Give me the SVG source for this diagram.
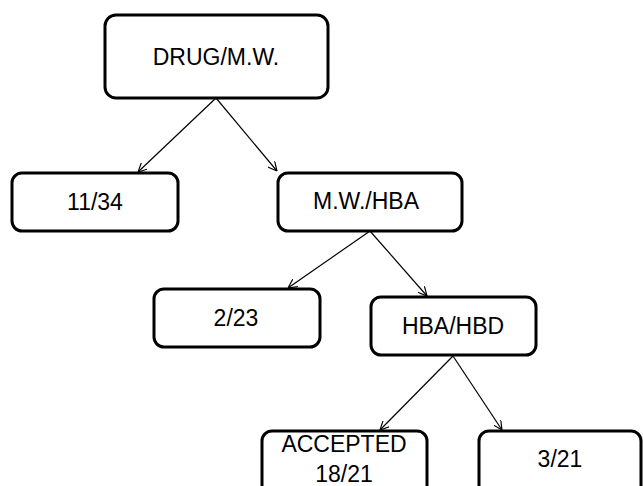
<svg xmlns="http://www.w3.org/2000/svg" width="643" height="486" viewBox="0 0 643 486">
<style>
.box{fill:#fff;stroke:#000;stroke-width:3}
.lbl{font-family:"Liberation Sans",Arial,sans-serif;font-size:23px;fill:#000;text-anchor:middle}
.edge{stroke:#000;stroke-width:1.2;fill:none;marker-end:url(#arr)}
</style>
<defs>
<marker id="arr" viewBox="0 0 10 10" refX="10" refY="5" markerWidth="9" markerHeight="9" markerUnits="userSpaceOnUse" orient="auto">
<path d="M0,0 L10,5 L0,10" fill="none" stroke="#000" stroke-width="1.3"/>
</marker>
</defs>
<rect width="643" height="486" fill="#fff"/>
<g id="connectors">
<line class="edge" x1="216" y1="98" x2="138" y2="172"/>
<line class="edge" x1="216" y1="98" x2="277" y2="171"/>
<line class="edge" x1="370" y1="231" x2="288" y2="288"/>
<line class="edge" x1="370" y1="231" x2="427" y2="296"/>
<line class="edge" x1="453" y1="356" x2="380" y2="430"/>
<line class="edge" x1="453" y1="356" x2="502" y2="430"/>
</g>
<g id="n-drug">
<rect class="box" x="105" y="15" width="223" height="83" rx="11"/>
<text class="lbl" x="216" y="65">DRUG/M.W.</text>
</g>
<g id="n-1134">
<rect class="box" x="12" y="173" width="166" height="58" rx="10"/>
<text class="lbl" x="95" y="210">11/34</text>
</g>
<g id="n-mwhba">
<rect class="box" x="278" y="173" width="184" height="58" rx="10"/>
<text class="lbl" x="366" y="209">M.W./HBA</text>
</g>
<g id="n-223">
<rect class="box" x="154" y="289" width="166" height="58" rx="10"/>
<text class="lbl" x="236" y="326">2/23</text>
</g>
<g id="n-hbahbd">
<rect class="box" x="371" y="297" width="165" height="58" rx="10"/>
<text class="lbl" x="453" y="334">HBA/HBD</text>
</g>
<g id="n-accepted">
<rect class="box" x="262" y="431" width="165" height="70" rx="10"/>
<text class="lbl" x="344" y="452">ACCEPTED</text>
<text class="lbl" x="344" y="482">18/21</text>
</g>
<g id="n-321">
<rect class="box" x="479" y="431" width="162" height="70" rx="10"/>
<text class="lbl" x="560" y="467">3/21</text>
</g>
</svg>
